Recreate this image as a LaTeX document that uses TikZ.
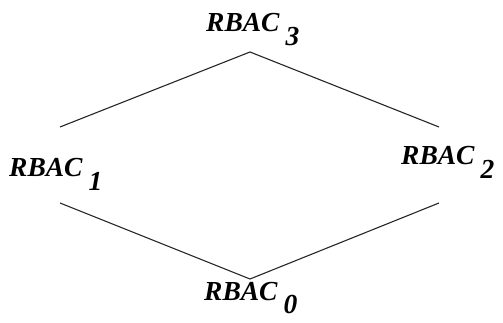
\documentclass[tikz,border=0pt]{standalone}
\usepackage{fontspec}
\setmainfont{Liberation Serif}
\newcommand{\rbaclabel}[1]{RBAC\hspace{6pt}\raisebox{-13.5pt}{#1}}
\begin{document}
\begin{tikzpicture}[x=1pt,y=-1pt,
  lbl/.style={inner sep=0pt, anchor=base west, font=\fontsize{27.5}{32}\selectfont\bfseries\itshape},
  edge/.style={line width=1.1pt, black!85}]
\useasboundingbox (0,0) rectangle (503,323);
\node[lbl] (r3) at (206,32) {\rbaclabel{3}};
\node[lbl] (r1) at (9,177) {\rbaclabel{1}};
\node[lbl] (r2) at (401,165) {\rbaclabel{2}};
\node[lbl] (r0) at (204,300) {\rbaclabel{0}};
\coordinate (top) at (250,52);
\coordinate (bot) at (250,279);
\coordinate (l1t) at (60,127);
\coordinate (l1b) at (60,203);
\coordinate (r2t) at (439,127);
\coordinate (r2b) at (439,203);
\draw[edge] (l1t) -- (top) -- (r2t);
\draw[edge] (l1b) -- (bot) -- (r2b);
\end{tikzpicture}
\end{document}
